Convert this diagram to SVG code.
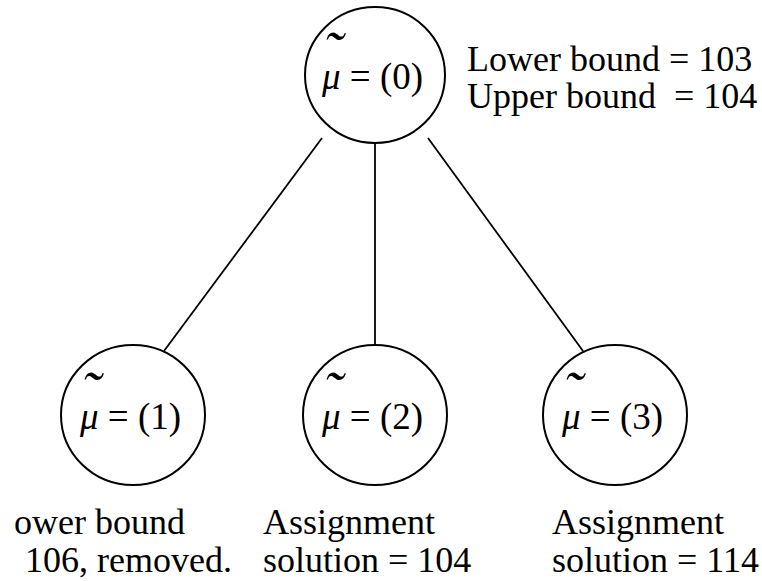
<svg xmlns="http://www.w3.org/2000/svg" width="762" height="581" viewBox="0 0 762 581">
<rect width="762" height="581" fill="#fff"/>
<g id="connectors" stroke="#000" stroke-width="1.8" fill="none">
<line x1="322" y1="138" x2="164" y2="351"/>
<line x1="375" y1="143" x2="375" y2="345"/>
<line x1="428" y1="138" x2="583" y2="351"/>
</g>
<g id="node0">
<ellipse cx="375" cy="75" rx="70" ry="68" fill="#fff" stroke="#000" stroke-width="2"/>
<text x="322" y="89" style="font-family:'Liberation Serif',serif;font-size:37px"><tspan style="font-style:italic">μ</tspan> = (0)</text>
<text x="323" y="71" style="font-family:'Liberation Serif',serif;font-size:58px;font-style:italic">˜</text>
</g>
<g id="node1">
<ellipse cx="133" cy="415" rx="72" ry="70" fill="#fff" stroke="#000" stroke-width="2"/>
<text x="80" y="429" style="font-family:'Liberation Serif',serif;font-size:37px"><tspan style="font-style:italic">μ</tspan> = (1)</text>
<text x="81" y="411" style="font-family:'Liberation Serif',serif;font-size:58px;font-style:italic">˜</text>
</g>
<g id="node2">
<ellipse cx="375" cy="415" rx="72" ry="70" fill="#fff" stroke="#000" stroke-width="2"/>
<text x="322" y="429" style="font-family:'Liberation Serif',serif;font-size:37px"><tspan style="font-style:italic">μ</tspan> = (2)</text>
<text x="323" y="411" style="font-family:'Liberation Serif',serif;font-size:58px;font-style:italic">˜</text>
</g>
<g id="node3">
<ellipse cx="615" cy="415" rx="72" ry="70" fill="#fff" stroke="#000" stroke-width="2"/>
<text x="562" y="429" style="font-family:'Liberation Serif',serif;font-size:37px"><tspan style="font-style:italic">μ</tspan> = (3)</text>
<text x="563" y="411" style="font-family:'Liberation Serif',serif;font-size:58px;font-style:italic">˜</text>
</g>
<g id="labels">
<text x="467" y="71" style="font-family:'Liberation Serif',serif;font-size:36px">Lower bound = 103</text>
<text x="467" y="108" style="font-family:'Liberation Serif',serif;font-size:36px">Upper bound&#160; = 104</text>
<text x="14" y="534" style="font-family:'Liberation Serif',serif;font-size:36px">ower bound</text>
<text x="25" y="572" style="font-family:'Liberation Serif',serif;font-size:36px">106, removed.</text>
<text x="263" y="534" style="font-family:'Liberation Serif',serif;font-size:36px">Assignment</text>
<text x="263" y="572" style="font-family:'Liberation Serif',serif;font-size:36px">solution = 104</text>
<text x="552" y="534" style="font-family:'Liberation Serif',serif;font-size:36px">Assignment</text>
<text x="552" y="572" style="font-family:'Liberation Serif',serif;font-size:36px">solution = 114</text>
</g>
</svg>
